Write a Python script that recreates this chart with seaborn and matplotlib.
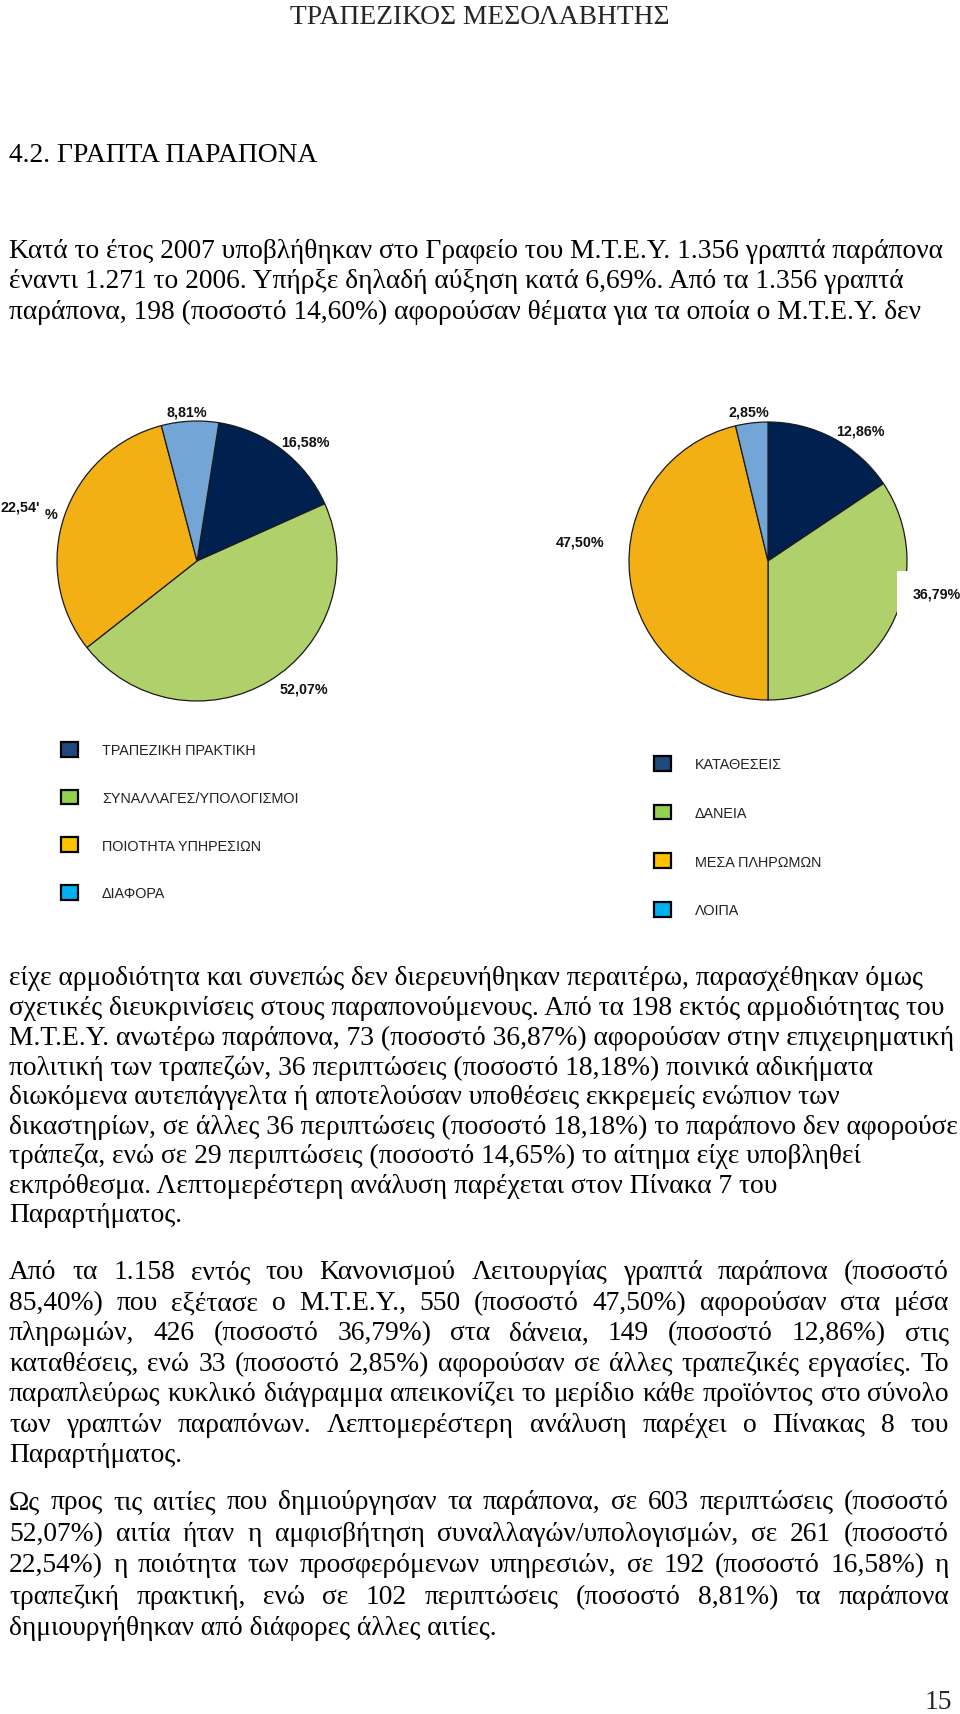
import matplotlib
matplotlib.use('Agg')
import matplotlib.pyplot as plt
from matplotlib.patches import Patch
from matplotlib import font_manager
import seaborn as sns

# ── Data ──────────────────────────────────────────────────────────────
cause_labels = ['ΤΡΑΠΕΖΙΚΗ ΠΡΑΚΤΙΚΗ', 'ΣΥΝΑΛΛΑΓΕΣ/ΥΠΟΛΟΓΙΣΜΟΙ',
                'ΠΟΙΟΤΗΤΑ ΥΠΗΡΕΣΙΩΝ', 'ΔΙΑΦΟΡΑ']
cause_pct_text = ['16,58%', '52,07%', "22,54'", '8,81%']
# slice sizes as they are drawn in the page (the scan's pie is not exact)
cause_share = [15.8, 46.1, 31.5, 6.6]

product_labels = ['ΚΑΤΑΘΕΣΕΙΣ', 'ΔΑΝΕΙΑ', 'ΜΕΣΑ ΠΛΗΡΩΜΩΝ', 'ΛΟΙΠΑ']
product_pct_text = ['12,86%', '36,79%', '47,50%', '2,85%']
product_share = [15.6, 34.4, 46.25, 3.75]

pie_colors = ['#00214F', '#AFD06B', '#F3B015', '#73A6D6']
legend_colors = ['#1F497D', '#92D050', '#FFC000', '#00B0F0']

header = 'ΤΡΑΠΕΖΙΚΟΣ ΜΕΣΟΛΑΒΗΤΗΣ'
section = '4.2. ΓΡΑΠΤΑ ΠΑΡΑΠΟΝΑ'
para1 = [
    'Κατά το έτος 2007 υποβλήθηκαν στο Γραφείο του Μ.Τ.Ε.Υ. 1.356 γραπτά παράπονα',
    'έναντι 1.271 το 2006. Υπήρξε δηλαδή αύξηση κατά 6,69%. Από τα 1.356 γραπτά',
    'παράπονα, 198 (ποσοστό 14,60%) αφορούσαν θέματα για τα οποία ο Μ.Τ.Ε.Υ. δεν',
]
para2 = [
    'είχε αρμοδιότητα και συνεπώς δεν διερευνήθηκαν περαιτέρω, παρασχέθηκαν όμως',
    'σχετικές διευκρινίσεις στους παραπονούμενους. Από τα 198 εκτός αρμοδιότητας του',
    'Μ.Τ.Ε.Υ. ανωτέρω παράπονα, 73 (ποσοστό 36,87%) αφορούσαν στην επιχειρηματική',
    'πολιτική των τραπεζών, 36 περιπτώσεις (ποσοστό 18,18%) ποινικά αδικήματα',
    'διωκόμενα αυτεπάγγελτα ή αποτελούσαν υποθέσεις εκκρεμείς ενώπιον των',
    'δικαστηρίων, σε άλλες 36 περιπτώσεις (ποσοστό 18,18%) το παράπονο δεν αφορούσε',
    'τράπεζα, ενώ σε 29 περιπτώσεις (ποσοστό 14,65%) το αίτημα είχε υποβληθεί',
    'εκπρόθεσμα. Λεπτομερέστερη ανάλυση παρέχεται στον Πίνακα 7 του',
    'Παραρτήματος.',
]
para3 = [
    'Από τα 1.158 εντός του Κανονισμού Λειτουργίας γραπτά παράπονα (ποσοστό',
    '85,40%) που εξέτασε ο Μ.Τ.Ε.Υ., 550 (ποσοστό 47,50%) αφορούσαν στα μέσα',
    'πληρωμών, 426 (ποσοστό 36,79%) στα δάνεια, 149 (ποσοστό 12,86%) στις',
    'καταθέσεις, ενώ 33 (ποσοστό 2,85%) αφορούσαν σε άλλες τραπεζικές εργασίες. Το',
    'παραπλεύρως κυκλικό διάγραμμα απεικονίζει το μερίδιο κάθε προϊόντος στο σύνολο',
    'των γραπτών παραπόνων. Λεπτομερέστερη ανάλυση παρέχει ο Πίνακας 8 του',
    'Παραρτήματος.',
]
para4 = [
    'Ως προς τις αιτίες που δημιούργησαν τα παράπονα, σε 603 περιπτώσεις (ποσοστό',
    '52,07%) αιτία ήταν η αμφισβήτηση συναλλαγών/υπολογισμών, σε 261 (ποσοστό',
    '22,54%) η ποιότητα των προσφερόμενων υπηρεσιών, σε 192 (ποσοστό 16,58%) η',
    'τραπεζική πρακτική, ενώ σε 102 περιπτώσεις (ποσοστό 8,81%) τα παράπονα',
    'δημιουργήθηκαν από διάφορες άλλες αιτίες.',
]
page_no = '15'

# ── Layout (page pixels) ──────────────────────────────────────────────
W, H = 960, 1715
LEFT, RIGHT = 9, 949

sns.set_theme(style='white')
installed = {f.name for f in font_manager.fontManager.ttflist}
narrow = 'Liberation Sans Narrow' in installed
SERIF = ['Liberation Serif', 'DejaVu Serif']
NARROW = ['Liberation Sans Narrow', 'Liberation Sans', 'DejaVu Sans']
plt.rcParams['font.family'] = SERIF

BODY = 19.8
LABEL_FS = 11.5 if narrow else 10.3
LEGEND_FS = 12 if narrow else 10.4

fig = plt.figure(figsize=(W / 100, H / 100), dpi=100)
fig.patch.set_facecolor('white')
page = fig.add_axes([0, 0, 1, 1])
page.set_xlim(0, W)
page.set_ylim(H, 0)
page.axis('off')
renderer = fig.canvas.get_renderer()


def put_line(text, y, justify=False, size=BODY, x0=LEFT, x1=RIGHT):
    kw = dict(fontsize=size, va='center', ha='left', color='black', family=SERIF)
    if not justify:
        page.text(x0, y, text, **kw)
        return
    words = text.split(' ')
    objs = [page.text(0, y, w, **kw) for w in words]
    widths = [o.get_window_extent(renderer).width for o in objs]
    gap = (x1 - x0 - sum(widths)) / (len(words) - 1)
    x = x0
    for o, w in zip(objs, widths):
        o.set_x(x)
        x += w + gap


page.text(W / 2, 17, header, fontsize=BODY, ha='center', va='center', family=SERIF)
put_line(section, 156)

for i, line in enumerate(para1):
    put_line(line, 251 + i * 30.8)
for i, line in enumerate(para2):
    put_line(line, 979 + i * 29.6)
for i, line in enumerate(para3):
    put_line(line, 1273 + i * 30.5, justify=i < len(para3) - 1)
for i, line in enumerate(para4):
    put_line(line, 1503 + i * 31.5, justify=i < len(para4) - 1)
page.text(938, 1703, page_no, fontsize=BODY, ha='center', va='center', family=SERIF)


def pie_axes(cx, cy, r, span=1.5):
    side = 2 * span * r
    ax = fig.add_axes([(cx - span * r) / W, 1 - (cy + span * r) / H, side / W, side / H])
    return ax


def draw_pie(ax, shares, start):
    ax.pie(shares, colors=pie_colors, startangle=start, counterclock=False,
           wedgeprops=dict(edgecolor='#1a1a1a', linewidth=0.9))
    ax.set_xlim(-1.5, 1.5)
    ax.set_ylim(-1.5, 1.5)
    ax.axis('off')


lab_kw = dict(fontsize=LABEL_FS, fontweight='bold', family=NARROW,
              ha='center', va='center', color='#111111')

# left pie: causes
axl = pie_axes(197, 562, 140)
draw_pie(axl, cause_share, 81)
cause_pos = [(0.771, 0.857), (0.764, -0.914), (-1.264, 0.386), (-0.071, 1.071)]
for txt, (x, y) in zip(cause_pct_text, cause_pos):
    axl.text(x, y, txt, **lab_kw)
axl.text(-1.043, 0.336, '%', **lab_kw)

# right pie: products
axr = pie_axes(768, 562, 139)
draw_pie(axr, product_share, 90)
product_pos = [(0.662, 0.942), (1.216, -0.237), (-1.353, 0.137), (-0.137, 1.079)]
for txt, (x, y) in zip(product_pct_text, product_pos):
    t = axr.text(x, y, txt, **lab_kw)
    if txt == '36,79%':
        t.set_bbox(dict(facecolor='white', edgecolor='none', boxstyle='square', pad=1.1))

# legends
def legend(labels, x, y, spacing):
    handles = [Patch(facecolor=c, edgecolor='black', linewidth=1.6) for c in legend_colors]
    fs_px = LEGEND_FS * 100 / 72
    leg = fig.legend(handles, labels, loc='upper left',
                     bbox_to_anchor=(x / W, 1 - y / H), frameon=False,
                     borderpad=0, borderaxespad=0,
                     handlelength=17 / fs_px, handleheight=17 / fs_px,
                     handletextpad=24 / fs_px, labelspacing=spacing / fs_px,
                     prop=dict(family=NARROW, size=LEGEND_FS))
    for t in leg.get_texts():
        t.set_color('#222222')
    return leg


legend(cause_labels, 61, 743, 32.5)
legend(product_labels, 654, 757, 33.5)

fig.savefig('out.png', dpi=100, facecolor='white')
